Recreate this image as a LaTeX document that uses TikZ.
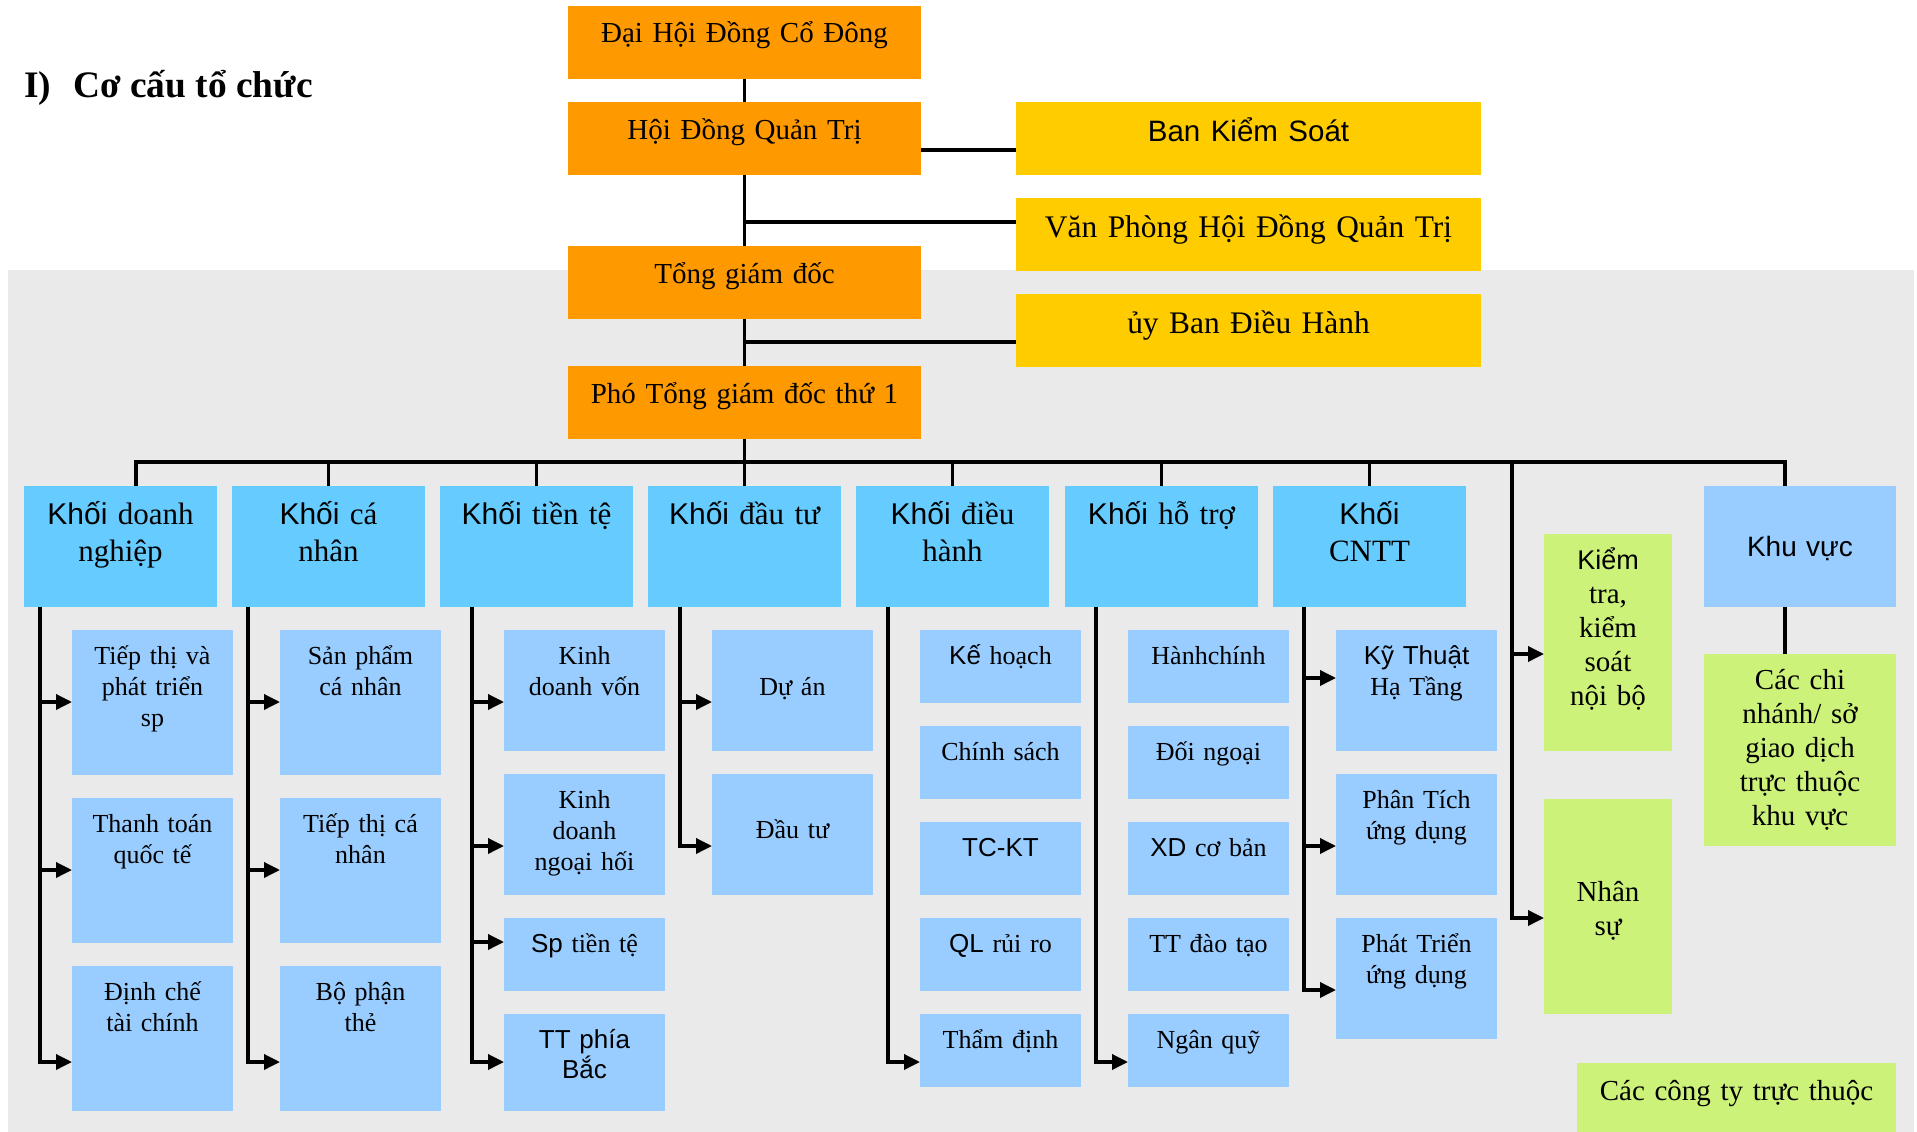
\documentclass[tikz,border=0pt]{standalone}
\usepackage{fontspec}
\setmainfont{Liberation Serif}
\newfontfamily\sansf{Liberation Sans}
\usetikzlibrary{arrows.meta}
\pgfdeclarelayer{back}\pgfdeclarelayer{lines}
\pgfsetlayers{back,lines,main}
\definecolor{orng}{RGB}{255,153,0}
\definecolor{yell}{RGB}{255,204,0}
\definecolor{hblue}{RGB}{102,204,255}
\definecolor{sblue}{RGB}{153,204,255}
\definecolor{lgreen}{RGB}{204,242,122}
\definecolor{bggray}{RGB}{234,234,234}
\newcommand\khoi{{\sansf\fontsize{30}{37.5}\selectfont Khối}}
\tikzset{
 bx/.style={inner sep=0pt, outer sep=0pt, anchor=north west, align=center},
 topbox/.style={bx, fill=orng, text width=353pt, text height=37pt, text depth=36pt, font=\fontsize{29}{34}\selectfont},
 sidebox/.style={bx, fill=yell, text width=465pt, text height=39pt, text depth=34pt, font=\fontsize{31.4}{36}\selectfont},
 hdr/.style={bx, fill=hblue, text width=193pt, text height=38pt, text depth=83pt, font=\fontsize{31}{37.5}\selectfont},
 sub/.style={bx, fill=sblue, text width=161pt, font=\fontsize{26}{31}\selectfont},
 hA/.style={text height=34pt, text depth=111pt},
 hB/.style={text height=34pt, text depth=87pt},
 hC/.style={text height=34pt, text depth=39pt},
 hD/.style={text height=34pt, text depth=63pt},
 grn/.style={bx, fill=lgreen, font=\fontsize{29}{34}\selectfont},
 ln/.style={line width=3.5pt},
 arr/.style={line width=3.5pt, -{Triangle[length=16pt,width=15pt]}},
}
\begin{document}
\begin{tikzpicture}[x=1pt,y=-1pt]
\useasboundingbox (0,0) rectangle (1917,1132);
\begin{pgfonlayer}{back}
\fill[bggray] (8,270) rectangle (1914,1132);
\end{pgfonlayer}

\node[anchor=base west, inner sep=0pt, font=\fontsize{37.4}{44}\selectfont\bfseries] (title) at (24,97) {I)\hspace{22pt}Cơ cấu tổ chức};

% top chain
\node[topbox] (dh) at (568,6) {Đại Hội Đồng Cổ Đông};
\node[topbox] (hd) at (568,102) {Hội Đồng Quản Trị};
\node[topbox] (tg) at (568,246) {Tổng giám đốc};
\node[topbox] (pt) at (568,366) {Phó Tổng giám đốc thứ 1};

\node[sidebox] (bks) at (1016,102) {{\sansf\fontsize{29.5}{34}\selectfont Ban Kiểm Soát}};
\node[sidebox] (vp) at (1016,198) {Văn Phòng Hội Đồng Quản Trị};
\node[sidebox] (ub) at (1016,294) {ủy Ban Điều Hành};

% headers
\node[hdr] (h1) at (24,486) {\khoi{} doanh\\nghiệp};
\node[hdr] (h2) at (232,486) {\khoi{} cá\\nhân};
\node[hdr] (h3) at (440,486) {\khoi{} tiền tệ};
\node[hdr] (h4) at (648,486) {\khoi{} đầu tư};
\node[hdr] (h5) at (856,486) {\khoi{} điều\\hành};
\node[hdr] (h6) at (1065,486) {\khoi{} hỗ trợ};
\node[hdr] (h7) at (1273,486) {\khoi\\CNTT};
\node[bx, fill=sblue, text width=192pt, text height=70pt, text depth=51pt, font=\sansf\fontsize{28}{34}\selectfont] (kv) at (1704,486) {Khu vực};

% column 1
\node[sub,hA] (s11) at (72,630) {Tiếp thị và\\phát triển\\sp};
\node[sub,hA] (s12) at (72,798) {Thanh toán\\quốc tế};
\node[sub,hA] (s13) at (72,966) {Định chế\\tài chính};
% column 2
\node[sub,hA] (s21) at (280,630) {Sản phẩm\\cá nhân};
\node[sub,hA] (s22) at (280,798) {Tiếp thị cá\\nhân};
\node[sub,hA] (s23) at (280,966) {Bộ phận\\thẻ};
% column 3
\node[sub,hB] (s31) at (504,630) {Kinh\\doanh vốn};
\node[sub,hB] (s32) at (504,774) {Kinh\\doanh\\ngoại hối};
\node[sub,hC] (s33) at (504,918) {{\sansf Sp} tiền tệ};
\node[sub,hD,font=\sansf\fontsize{26}{30}\selectfont] (s34) at (504,1014) {TT phía\\Bắc};
% column 4
\node[sub,text height=65pt,text depth=56pt] (s41) at (712,630) {Dự án};
\node[sub,text height=64pt,text depth=57pt] (s42) at (712,774) {Đầu tư};
% column 5
\node[sub,hC] (s51) at (920,630) {{\sansf Kế} hoạch};
\node[sub,hC] (s52) at (920,726) {Chính sách};
\node[sub,hC] (s53) at (920,822) {{\sansf TC-KT}};
\node[sub,hC] (s54) at (920,918) {{\sansf QL} rủi ro};
\node[sub,hC] (s55) at (920,1014) {Thẩm định};
% column 6
\node[sub,hC] (s61) at (1128,630) {Hànhchính};
\node[sub,hC] (s62) at (1128,726) {Đối ngoại};
\node[sub,hC] (s63) at (1128,822) {{\sansf XD} cơ bản};
\node[sub,hC] (s64) at (1128,918) {TT đào tạo};
\node[sub,hC] (s65) at (1128,1014) {Ngân quỹ};
% column 7
\node[sub,hB] (s71) at (1336,630) {{\sansf Kỹ Thuật}\\Hạ Tầng};
\node[sub,hB] (s72) at (1336,774) {Phân Tích\\ứng dụng};
\node[sub,hB] (s73) at (1336,918) {Phát Triển\\ứng dụng};

% green boxes
\node[grn, text width=128pt, text height=35pt, text depth=182pt] (kt) at (1544,534) {{\sansf\fontsize{27}{34}\selectfont Kiểm}\\tra,\\kiểm\\soát\\nội bộ};
\node[grn, text width=128pt, text height=102pt, text depth=113pt] (ns) at (1544,799) {Nhân\\sự};
\node[grn, text width=192pt, text height=35pt, text depth=157pt] (cn) at (1704,654) {Các chi\\nhánh/ sở\\giao dịch\\trực thuộc\\khu vực};
\node[grn, text width=319pt, text height=37pt, text depth=32pt] (ct) at (1577,1063) {Các công ty trực thuộc};

\begin{pgfonlayer}{lines}
% trunk
\draw[ln] (dh.south) -- (h4.north);
\coordinate (j1) at (744.5,150);
\coordinate (j2) at (744.5,222);
\coordinate (j3) at (744.5,342);
\draw[ln] (j1) -- (j1 -| bks.west);
\draw[ln] (j2) -- (j2 -| vp.west);
\draw[ln] (j3) -- (j3 -| ub.west);
% bus
\coordinate (bl) at (136,462);
\coordinate (br) at (1785,462);
\draw[ln] (bl |- h1.north) -- (bl) -- (br) -- (br |- kv.north);
\draw[ln] (h2.north) -- (h2.north |- bl);
\draw[ln] (h3.north) -- (h3.north |- bl);
\draw[ln] (h5.north) -- (h5.north |- bl);
\draw[ln] (h6.north) -- (h6.north |- bl);
\draw[ln] (h7.north) -- (h7.north |- bl);
\draw[ln] (br |- kv.south) -- (br |- cn.north);
% column 1
\coordinate (a11) at (40,702); \coordinate (a12) at (40,870); \coordinate (a13) at (40,1062);
\draw[arr] (a13 |- h1.south) -- (a13) -- (a13 -| s13.west);
\draw[arr] (a11) -- (a11 -| s11.west);
\draw[arr] (a12) -- (a12 -| s12.west);
% column 2
\coordinate (a21) at (248,702); \coordinate (a22) at (248,870); \coordinate (a23) at (248,1062);
\draw[arr] (a23 |- h2.south) -- (a23) -- (a23 -| s23.west);
\draw[arr] (a21) -- (a21 -| s21.west);
\draw[arr] (a22) -- (a22 -| s22.west);
% column 3
\coordinate (a31) at (472,702); \coordinate (a32) at (472,846); \coordinate (a33) at (472,942); \coordinate (a34) at (472,1062);
\draw[arr] (a34 |- h3.south) -- (a34) -- (a34 -| s34.west);
\draw[arr] (a31) -- (a31 -| s31.west);
\draw[arr] (a32) -- (a32 -| s32.west);
\draw[arr] (a33) -- (a33 -| s33.west);
% column 4
\coordinate (a41) at (680,702); \coordinate (a42) at (680,846);
\draw[arr] (a42 |- h4.south) -- (a42) -- (a42 -| s42.west);
\draw[arr] (a41) -- (a41 -| s41.west);
% column 5
\coordinate (a55) at (888,1062);
\draw[arr] (a55 |- h5.south) -- (a55) -- (a55 -| s55.west);
% column 6
\coordinate (a65) at (1096,1062);
\draw[arr] (a65 |- h6.south) -- (a65) -- (a65 -| s65.west);
% column 7
\coordinate (a71) at (1304,678); \coordinate (a72) at (1304,846); \coordinate (a73) at (1304,990);
\draw[arr] (a73 |- h7.south) -- (a73) -- (a73 -| s73.west);
\draw[arr] (a71) -- (a71 -| s71.west);
\draw[arr] (a72) -- (a72 -| s72.west);
% column 8
\coordinate (a81) at (1512,654); \coordinate (a82) at (1512,918);
\draw[arr] (a82 |- bl) -- (a82) -- (a82 -| ns.west);
\draw[arr] (a81) -- (a81 -| kt.west);
\end{pgfonlayer}
\end{tikzpicture}
\end{document}
